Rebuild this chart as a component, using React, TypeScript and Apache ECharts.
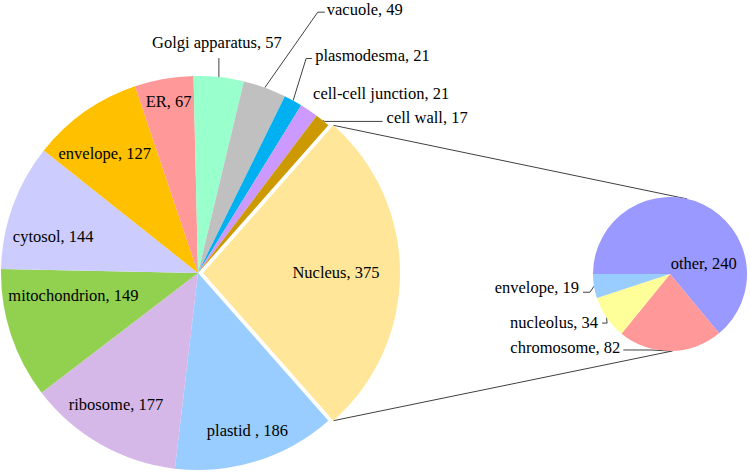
import React, { useEffect, useRef } from "react";
import * as echarts from "echarts";

// ---- data ----
const mainCategories = [
  "Nucleus", "plastid ", "ribosome", "mitochondrion", "cytosol", "envelope",
  "ER", "Golgi apparatus", "vacuole", "plasmodesma", "cell-cell junction", "cell wall",
];
const mainValues = [375, 186, 177, 149, 144, 127, 67, 57, 49, 21, 21, 17];
const subCategories = ["other", "chromosome", "nucleolus", "envelope"];
const subValues = [240, 82, 34, 19];

// ---- styles ----
const mainColors = [
  "#FFE699", "#99CCFF", "#D5B8E8", "#92D050", "#CCCCFF", "#FFC000",
  "#FF9999", "#99FFCC", "#C0C0C0", "#00B0F0", "#CC99FF", "#CC9900",
];
const subColors = ["#9999FF", "#FF9999", "#FFFF99", "#99CCFF"];

const MAIN_CENTER = [198, 273];
const MAIN_R = 197;
const EXPLODE = 5;
const EXPLODED_INDEX = 0;
const SUB_CENTER = [670, 274];
const SUB_R = 77;
const SUB_START = 180;
const CONNECT_ANGLES = [77, -88];
const FONT = "Liberation Serif, Times New Roman, Times, serif";
const FONT_SIZE = 16.5;
const LINE_COLOR = "#404040";

type Spec =
  | { kind: "in"; rf: number; dx: number; dy: number }
  | { kind: "out"; dx: number; dy: number; align: string; line: number[][] | null };

const mainLabelSpec: Spec[] = [
  { kind: "in", rf: 0.675, dx: 0, dy: -1 },
  { kind: "in", rf: 0.84, dx: 0, dy: 0 },
  { kind: "in", rf: 0.79, dx: -5, dy: -4 },
  { kind: "in", rf: 0.66, dx: -1, dy: -18 },
  { kind: "in", rf: 0.76, dx: -4, dy: 14 },
  { kind: "in", rf: 0.77, dx: -6, dy: 5 },
  { kind: "in", rf: 0.89, dx: 1, dy: 1 },
  { kind: "out", dx: -2, dy: -35, align: "center", line: [[2, 23], [2, 16]] },
  { kind: "out", dx: 62, dy: -78.5, align: "left", line: [[-9, 3], [-2, 3]] },
  { kind: "out", dx: 22, dy: -45, align: "left", line: [[-9, 3], [-3, 3]] },
  { kind: "out", dx: 4, dy: -17, align: "left", line: null },
  { kind: "out", dx: 64, dy: -3, align: "left", line: [[-62, 4], [-4, 4]] },
];
const subLabelSpec: Spec[] = [
  { kind: "in", rf: 0.45, dx: 19, dy: 21 },
  { kind: "out", dx: -50, dy: -3, align: "right", line: [[30, 2], [3, 2]] },
  { kind: "out", dx: -8.5, dy: 4.4, align: "right", line: [[9, 1], [4, 1]] },
  { kind: "out", dx: -15, dy: 1, align: "right", line: [[11, 5], [4, 5]] },
];

const sum = (a: number[]) => a.reduce((s, v) => s + v, 0);
const rad = (d: number) => (d * Math.PI) / 180;

function midAngles(values: number[], start: number) {
  const total = sum(values);
  let a = start;
  return values.map((v) => {
    const span = (v / total) * 360;
    const m = a - span / 2;
    a -= span;
    return m;
  });
}

const MAIN_START = (mainValues[EXPLODED_INDEX] / sum(mainValues)) * 180;

export default function App() {
  const ref = useRef<HTMLDivElement>(null);
  useEffect(() => {
    if (!ref.current) return;
    const chart = echarts.init(ref.current, undefined, { renderer: "svg" });
    const mainMid = midAngles(mainValues, MAIN_START);
    const subMid = midAngles(subValues, SUB_START);
    const explodedMid = mainMid[EXPLODED_INDEX];
    const exX = EXPLODE * Math.cos(rad(explodedMid));
    const exY = -EXPLODE * Math.sin(rad(explodedMid));
    const explodedCenter = [MAIN_CENTER[0] + exX, MAIN_CENTER[1] + exY];

    const place = (spec: Spec, mid: number, c: number[], r: number) => {
      const cx = c[0];
      const cy = c[1];
      if (spec.kind === "in") {
        return {
          x: cx + spec.rf * r * Math.cos(rad(mid)) + spec.dx,
          y: cy - spec.rf * r * Math.sin(rad(mid)) + spec.dy,
          align: "center",
          verticalAlign: "middle",
        };
      }
      const ex = cx + r * Math.cos(rad(mid));
      const ey = cy - r * Math.sin(rad(mid));
      const ax = ex + spec.dx;
      const ay = ey + spec.dy;
      const res: any = { x: ax, y: ay, align: spec.align, verticalAlign: "middle" };
      if (spec.line) {
        res.labelLinePoints = [
          [ex, ey],
          [ax + spec.line[0][0], ay + spec.line[0][1]],
          [ax + spec.line[1][0], ay + spec.line[1][1]],
        ];
      }
      return res;
    };

    const labelCommon = {
      show: true,
      position: "outside",
      formatter: "{b}, {c}",
      fontFamily: FONT,
      fontSize: FONT_SIZE,
      color: "#000",
    };

    const mkData = (
      cats: string[],
      vals: number[],
      colors: string[],
      specs: Spec[],
      visible: (i: number) => boolean
    ) =>
      cats.map((n, i) => ({
        name: n,
        value: vals[i],
        itemStyle: { color: visible(i) ? colors[i] : "rgba(0,0,0,0)" },
        label: { show: visible(i), fontFamily: FONT, fontSize: FONT_SIZE },
        labelLine: {
          show: visible(i) && specs[i].kind === "out" && (specs[i] as any).line !== null,
        },
      }));

    const corner = (ang: number) => [
      explodedCenter[0] + MAIN_R * Math.cos(rad(ang)),
      explodedCenter[1] - MAIN_R * Math.sin(rad(ang)),
    ];
    const halfSpan = (mainValues[EXPLODED_INDEX] / sum(mainValues)) * 180;
    const p1 = corner(explodedMid + halfSpan);
    const p2 = corner(explodedMid - halfSpan);
    const q = (ang: number) => [
      SUB_CENTER[0] + SUB_R * Math.cos(rad(ang)),
      SUB_CENTER[1] - SUB_R * Math.sin(rad(ang)),
    ];
    const q1 = q(CONNECT_ANGLES[0]);
    const q2 = q(CONNECT_ANGLES[1]);

    const baseSeries = {
      type: "pie",
      radius: [0, MAIN_R],
      startAngle: MAIN_START,
      clockwise: true,
      avoidLabelOverlap: false,
      silent: true,
      emphasis: { disabled: true },
      label: labelCommon,
      labelLine: { show: true, lineStyle: { color: LINE_COLOR, width: 1 } },
    };

    chart.setOption({
      animation: false,
      backgroundColor: "#fff",
      textStyle: { fontFamily: FONT },
      graphic: [
        {
          type: "line",
          shape: { x1: p1[0], y1: p1[1], x2: q1[0], y2: q1[1] },
          style: { stroke: LINE_COLOR, lineWidth: 1 },
          z: 0,
        },
        {
          type: "line",
          shape: { x1: p2[0], y1: p2[1], x2: q2[0], y2: q2[1] },
          style: { stroke: LINE_COLOR, lineWidth: 1 },
          z: 0,
        },
      ],
      series: [
        {
          ...baseSeries,
          center: MAIN_CENTER,
          labelLayout: (p: any) =>
            place(mainLabelSpec[p.dataIndex], mainMid[p.dataIndex], MAIN_CENTER, MAIN_R),
          data: mkData(mainCategories, mainValues, mainColors, mainLabelSpec, (i) => i !== EXPLODED_INDEX),
        },
        {
          ...baseSeries,
          center: explodedCenter,
          labelLayout: (p: any) =>
            place(mainLabelSpec[p.dataIndex], mainMid[p.dataIndex], explodedCenter, MAIN_R),
          data: mkData(mainCategories, mainValues, mainColors, mainLabelSpec, (i) => i === EXPLODED_INDEX),
        },
        {
          ...baseSeries,
          center: SUB_CENTER,
          radius: [0, SUB_R],
          startAngle: SUB_START,
          labelLayout: (p: any) =>
            place(subLabelSpec[p.dataIndex], subMid[p.dataIndex], SUB_CENTER, SUB_R),
          data: mkData(subCategories, subValues, subColors, subLabelSpec, () => true),
        },
      ],
    });
    return () => chart.dispose();
  }, []);
  return (
    <div
      ref={ref}
      style={{ position: "absolute", left: 0, top: 0, width: 750, height: 473 }}
    />
  );
}
